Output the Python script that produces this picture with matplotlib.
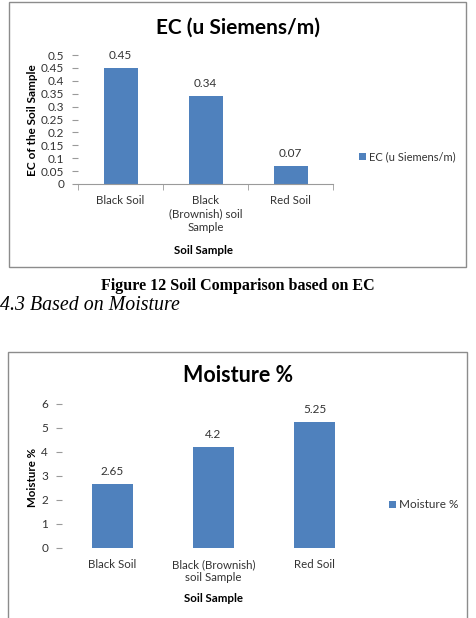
import numpy as np
import matplotlib
matplotlib.use("Agg")
import matplotlib.pyplot as plt
from matplotlib.patches import Rectangle

# data
soil_labels_ec = ["Black Soil", "Black\n(Brownish) soil\nSample", "Red Soil"]
ec_values = [0.45, 0.34, 0.07]
soil_labels_moist = ["Black Soil", "Black (Brownish)\nsoil Sample", "Red Soil"]
moisture_values = [2.65, 4.2, 5.25]
ec_ticks = np.arange(0, 0.501, 0.05)
moist_ticks = np.arange(0, 7, 1)

W, H = 476, 618
blue = "#4F81BD"
chart_font = "Lato"
doc_font = "Liberation Serif"

fig = plt.figure(figsize=(W / 100, H / 100), dpi=100)
fig.patch.set_facecolor("white")


def fx(x):
    return x / W


def fy(y):
    return 1 - y / H


def rect(left, top, right, bottom):
    return [fx(left), fy(bottom), (right - left) / W, (bottom - top) / H]


# chart frames
fig.patches.append(Rectangle((fx(9), fy(267)), (466 - 9) / W, (267 - 2) / H,
                             transform=fig.transFigure, fill=False,
                             edgecolor="#8c8c8c", linewidth=1))
fig.patches.append(Rectangle((fx(8), fy(640)), (467 - 8) / W, (640 - 352) / H,
                             transform=fig.transFigure, fill=False,
                             edgecolor="#8c8c8c", linewidth=1))


def bar_chart(pos, values, labels, ticks, ylim, fmt):
    ax = fig.add_axes(pos)
    x = np.arange(len(values))
    bars = ax.bar(x, values, width=0.4, color=blue, zorder=2)
    ax.set_xlim(-0.5, len(values) - 0.5)
    ax.set_ylim(*ylim)
    ax.set_yticks(ticks)
    ax.set_yticklabels([fmt(t) for t in ticks], fontsize=8.5, color="#333333",
                       family=chart_font)
    ax.set_xticks(x)
    ax.set_xticklabels(labels, fontsize=8.3, color="#333333", family=chart_font,
                       linespacing=1.25, va="top")
    for s in ["top", "right", "left"]:
        ax.spines[s].set_visible(False)
    ax.spines["bottom"].set_color("#9a9a9a")
    ax.tick_params(axis="y", length=4, color="#9a9a9a", pad=6)
    ax.tick_params(axis="x", length=0, pad=8)
    # category separator ticks on the x axis
    ax.set_xticks(np.arange(-0.5, len(values), 1), minor=True)
    ax.tick_params(axis="x", which="minor", length=4, color="#9a9a9a")
    for b, v in zip(bars, values):
        ax.annotate(f"{v:g}", (b.get_x() + b.get_width() / 2, v),
                    xytext=(0, 5), textcoords="offset points",
                    ha="center", va="bottom", fontsize=8.5, color="#333333",
                    family=chart_font)
    return ax, bars


# EC chart
ax1, bars1 = bar_chart(rect(78, 55, 333, 184), ec_values, soil_labels_ec,
                       ec_ticks, (0, 0.5), lambda t: f"{round(t, 2):g}")
fig.text(fx(238), fy(28), "EC (u Siemens/m)", ha="center", va="center",
         fontsize=15, fontweight="bold", family=chart_font)
fig.text(fx(33), fy(120), "EC of the Soil Sample", ha="center", va="center",
         rotation=90, fontsize=8.5, fontweight="bold", family=chart_font)
fig.text(fx(204), fy(251), "Soil Sample", ha="center", va="center",
         fontsize=8.3, fontweight="bold", family=chart_font)
fig.legend([bars1], ["EC (u Siemens/m)"], loc="center left",
           bbox_to_anchor=(fx(349), fy(157)), frameon=False,
           handlelength=0.6, handleheight=0.6, handletextpad=0.3,
           prop={"family": chart_font, "size": 8}, labelcolor="#333333")

# document text between the charts
fig.text(fx(238), fy(286), "Figure 12 Soil Comparison based on EC",
         ha="center", va="center", fontsize=11.5, fontweight="bold",
         family=doc_font)
fig.text(fx(0), fy(305), "4.3 Based on Moisture", ha="left", va="center",
         fontsize=14.3, fontstyle="italic", family=doc_font)

# Moisture chart
ax2, bars2 = bar_chart(rect(62, 404, 365, 548), moisture_values,
                       soil_labels_moist, moist_ticks, (0, 6),
                       lambda t: f"{t:g}")
ax2.spines["bottom"].set_visible(False)
ax2.tick_params(axis="x", which="minor", length=0)
fig.text(fx(238), fy(375), "Moisture %", ha="center", va="center",
         fontsize=15.5, fontweight="bold", family=chart_font)
fig.text(fx(32), fy(477), "Moisture %", ha="center", va="center",
         rotation=90, fontsize=8.3, fontweight="bold", family=chart_font)
fig.text(fx(213), fy(598), "Soil Sample", ha="center", va="center",
         fontsize=8.3, fontweight="bold", family=chart_font)
fig.legend([bars2], ["Moisture %"], loc="center left",
           bbox_to_anchor=(fx(378), fy(505)), frameon=False,
           handlelength=0.6, handleheight=0.6, handletextpad=0.3,
           prop={"family": chart_font, "size": 8.5}, labelcolor="#333333")

fig.savefig("out.png", dpi=100)
